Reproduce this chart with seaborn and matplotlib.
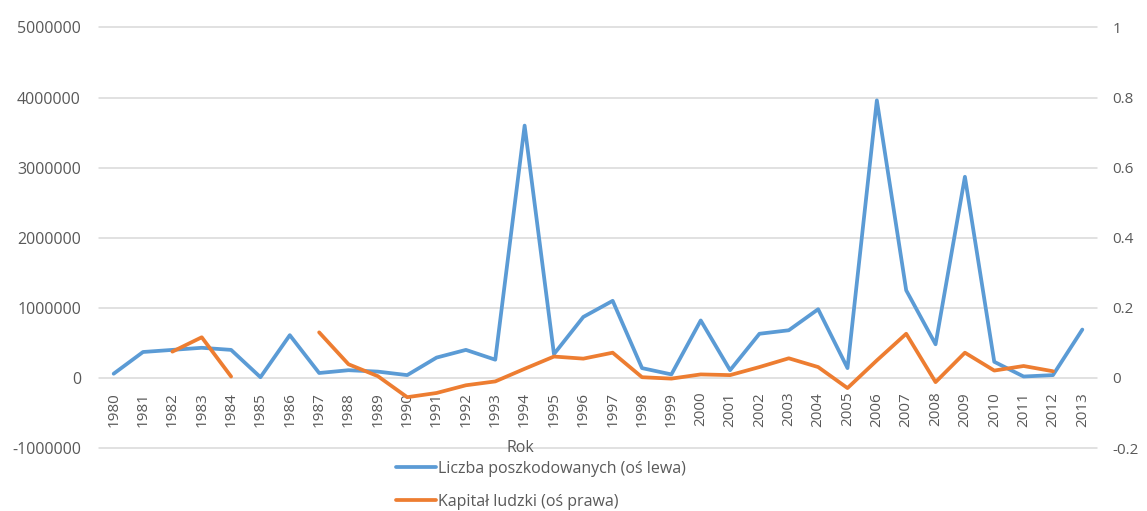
import numpy as np
import pandas as pd
import matplotlib
matplotlib.use("Agg")
import matplotlib.pyplot as plt
from matplotlib.lines import Line2D
import seaborn as sns

years = list(range(1980, 2014))

# Number of people affected (left axis)
poszkodowani = [
    60000, 370000, 400000, 430000, 400000, 10000, 610000, 70000, 110000, 90000,
    40000, 290000, 400000, 260000, 3600000, 340000, 870000, 1100000, 140000, 50000,
    820000, 110000, 630000, 680000, 980000, 140000, 3960000, 1250000, 480000, 2870000,
    230000, 20000, 40000, 690000,
]

# Human capital (right axis); NaN where no value was recorded
kapital = [
    np.nan, np.nan, 0.075, 0.116, 0.004, np.nan, np.nan, 0.130, 0.039, 0.005,
    -0.055, -0.043, -0.021, -0.010, 0.026, 0.061, 0.055, 0.072, 0.002, -0.002,
    0.010, 0.008, 0.031, 0.056, 0.031, -0.029, 0.050, 0.126, -0.012, 0.072,
    0.021, 0.034, 0.019, np.nan,
]

left_ticks = [-1000000, 0, 1000000, 2000000, 3000000, 4000000, 5000000]
left_labels = ["-1000000", "0", "1000000", "2000000", "3000000", "4000000", "5000000"]
right_ticks = [-0.2, 0, 0.2, 0.4, 0.6, 0.8, 1.0]
right_labels = ["-0.2", "0", "0.2", "0.4", "0.6", "0.8", "1"]

label_blue = "Liczba poszkodowanych (oś lewa)"
label_orange = "Kapitał ludzki (oś prawa)"
x_title = "Rok"

BLUE = "#5B9BD5"
ORANGE = "#ED7D31"
GRID = "#D9D9D9"
TEXT = "#595959"

sns.set_theme(style="white")
plt.rcParams["font.family"] = ["Open Sans", "DejaVu Sans"]

df = pd.DataFrame({"rok": years, "poszkodowani": poszkodowani, "kapital": kapital})
# split the right-axis series into runs so that missing years leave gaps
df["odcinek"] = df["kapital"].isna().cumsum()
df_k = df.dropna(subset=["kapital"])

fig = plt.figure(figsize=(11.47, 5.11), dpi=100)
W, H = 1147, 511
x0, x1 = 99, 1097
y_top, y_bot = 27.5, 448
ax = fig.add_axes([x0 / W, (H - y_bot) / H, (x1 - x0) / W, (y_bot - y_top) / H])

sns.lineplot(data=df, x="rok", y="poszkodowani", ax=ax, color=BLUE,
             linewidth=2.7, legend=False)

ax2 = ax.twinx()
sns.lineplot(data=df_k, x="rok", y="kapital", units="odcinek", estimator=None,
             ax=ax2, color=ORANGE, linewidth=2.7, legend=False)

ax.set_ylim(-1000000, 5000000)
ax.set_xlim(years[0] - 0.5, years[-1] + 0.5)
ax.set_yticks(left_ticks)
ax.set_yticklabels(left_labels)
ax.yaxis.grid(True, color=GRID, linewidth=1.1)
ax.xaxis.grid(False)
ax.set_axisbelow(True)
ax.set_xticks(years)
ax.set_xticklabels([str(y) for y in years])
ax.spines["bottom"].set_position(("data", 0))
for s in ax.spines.values():
    s.set_visible(False)
ax.tick_params(axis="y", length=0, pad=13, labelsize=11.5, labelcolor=TEXT)
ax.tick_params(axis="x", length=0, pad=10, labelsize=11, labelcolor=TEXT,
               labelrotation=90)
ax.set_xlabel("")
ax.set_ylabel("")
for gl in ax.get_ygridlines():
    gl.set_clip_on(False)

ax2.set_ylim(-0.2, 1.0)
ax2.set_yticks(right_ticks)
ax2.set_yticklabels(right_labels)
ax2.grid(False)
for s in ax2.spines.values():
    s.set_visible(False)
ax2.tick_params(axis="y", length=0, pad=11, labelsize=11, labelcolor=TEXT)
ax2.set_ylabel("")
ax2.set_xlabel("")

fig.text(520 / W, 1 - 448 / H, x_title, ha="center", va="center",
         fontsize=11.5, color=TEXT)

handles = [Line2D([0], [0], color=BLUE, linewidth=2.7),
           Line2D([0], [0], color=ORANGE, linewidth=2.7)]
fig.legend(handles, [label_blue, label_orange], loc="upper left",
           bbox_to_anchor=(396 / W, 1 - 461 / H), frameon=False,
           fontsize=11.5, labelcolor=TEXT, handlelength=2.5,
           handletextpad=0.15, labelspacing=1.05, borderaxespad=0,
           borderpad=0)

fig.savefig("out.png", dpi=100, facecolor="white")
